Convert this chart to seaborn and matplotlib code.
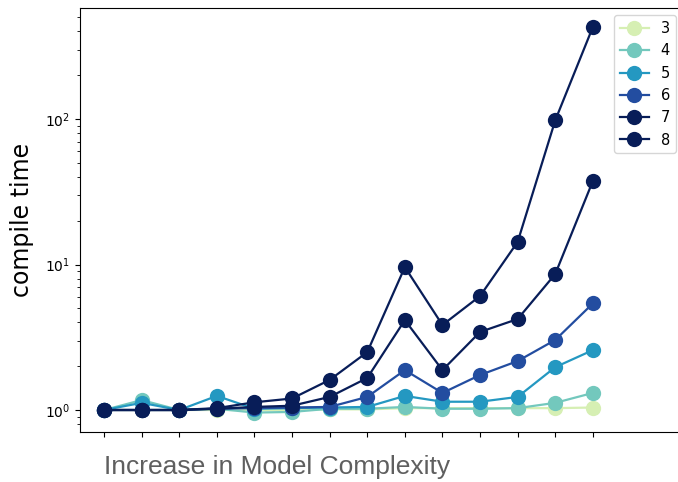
"""Compile time vs model complexity, one line per hue level (log scale)."""
import matplotlib
matplotlib.use("Agg")
import matplotlib.pyplot as plt
import numpy as np
import pandas as pd
import seaborn as sns

# x positions are just ordinal complexity steps (no tick labels shown)
steps = list(range(14))
levels = [3, 4, 5, 6, 7, 8]

time_3 = [1.00, 1.00, 1.00, 1.00, 1.00, 1.00, 1.01, 1.01, 1.03, 1.03, 1.03, 1.03, 1.03, 1.04]
time_4 = [1.00, 1.17, 1.00, 1.02, 0.96, 0.97, 1.02, 1.02, 1.05, 1.02, 1.02, 1.03, 1.12, 1.31]
time_5 = [1.00, 1.12, 1.00, 1.25, 1.02, 1.03, 1.04, 1.05, 1.25, 1.14, 1.14, 1.23, 1.97, 2.58]
time_6 = [1.00, 1.00, 1.00, 1.02, 1.03, 1.04, 1.05, 1.23, 1.88, 1.31, 1.74, 2.17, 3.03, 5.40]
time_7 = [1.00, 1.00, 1.00, 1.02, 1.05, 1.07, 1.23, 1.66, 4.15, 1.88, 3.44, 4.22, 8.60, 37.5]
time_8 = [1.00, 1.00, 1.00, 1.03, 1.13, 1.20, 1.61, 2.50, 9.60, 3.84, 6.07, 14.3, 98.0, 429.0]

series = [time_3, time_4, time_5, time_6, time_7, time_8]

df = pd.DataFrame({
    "step": steps * len(levels),
    "time": [v for s in series for v in s],
    "n": [lv for lv in levels for _ in steps],
})

# YlGnBu normalised over (2, 7); 8 clips to the darkest end
cmap = plt.get_cmap("YlGnBu")
palette = {lv: cmap(min((lv - 2) / 5, 1.0)) for lv in levels}

fig = plt.figure(figsize=(6.78, 4.82), dpi=100)
# right edge of the axes runs past the image, as in the cropped original
ax = fig.add_axes([80 / 678, 50 / 482, 620 / 678, 424 / 482])

sns.lineplot(
    data=df, x="step", y="time", hue="n", palette=palette,
    marker="o", markersize=11, markeredgewidth=0, linewidth=1.6, ax=ax,
)

ax.set_yscale("log")
ax.set_ylim(0.706, 580)
ax.set_xlim(-0.64, 15.85)
ax.set_xticks(steps)
ax.set_xticklabels([])
ax.set_xlabel("")
ax.set_ylabel("compile time", fontsize=17, labelpad=8)

sns.move_legend(ax, "upper right", title=None, fontsize=10.5,
                bbox_to_anchor=(683 / 678, 1 - 8 / 482),
                bbox_transform=fig.transFigure)

fig.text(104 / 678, 1 - 467 / 482, "Increase in Model Complexity",
         fontsize=19, color="#5f5f5f", family="Liberation Sans",
         ha="left", va="center")

fig.savefig("out.png", dpi=100)
